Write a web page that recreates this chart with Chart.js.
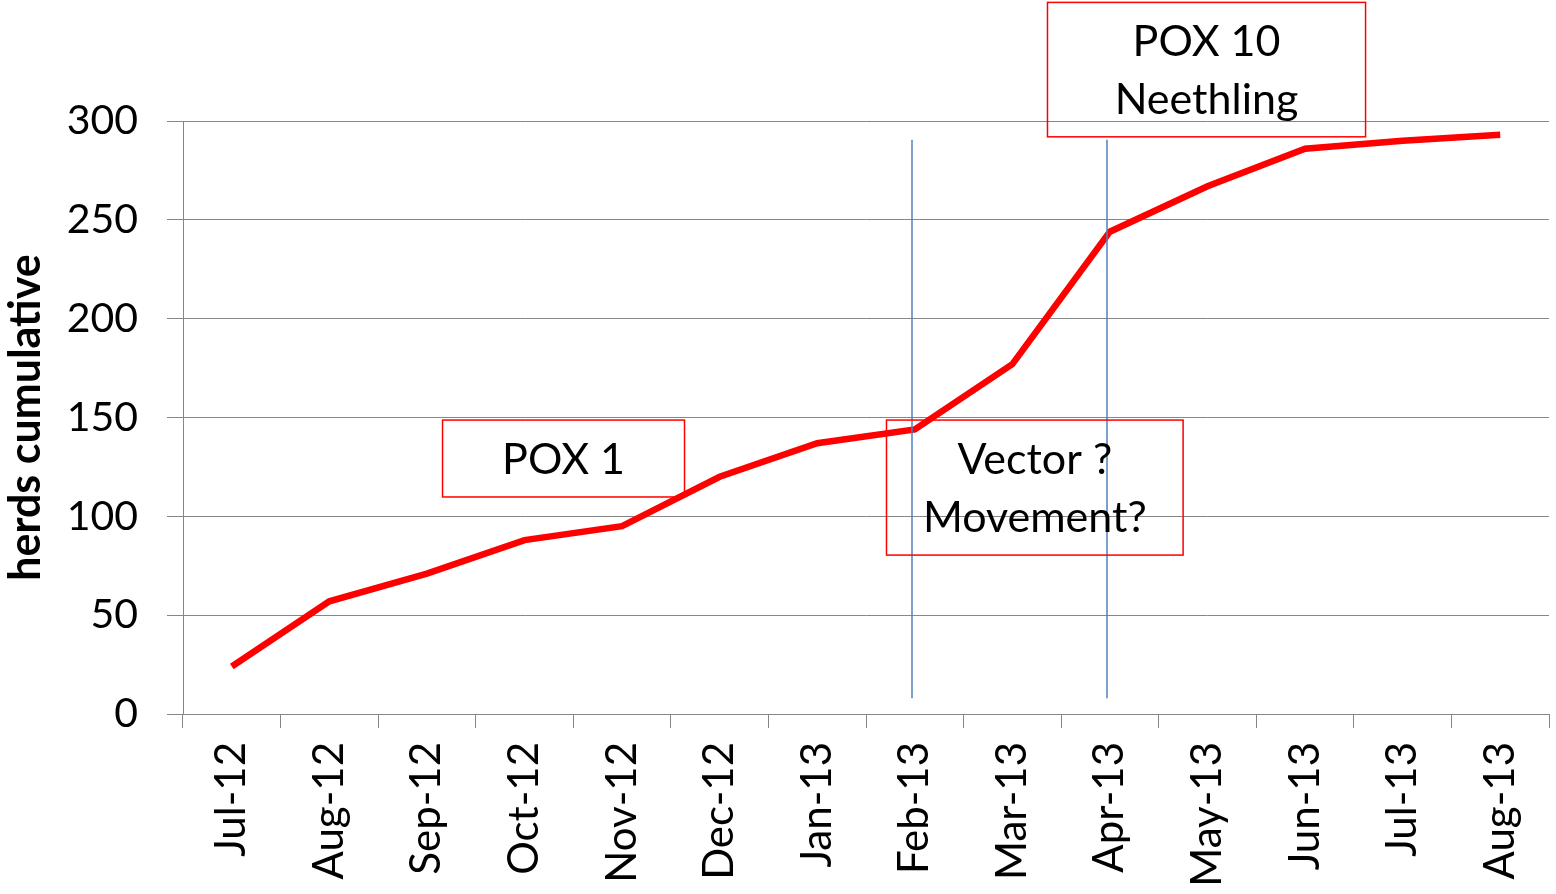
<!DOCTYPE html>
<html>
<head>
<meta charset="utf-8">
<script src="https://cdnjs.cloudflare.com/ajax/libs/Chart.js/4.4.1/chart.umd.min.js"></script>
<style>
  html, body { margin: 0; padding: 0; background: #fff; }
  #wrap { width: 1556px; height: 894px; }
</style>
</head>
<body>
<div id="wrap"><canvas id="grafico" width="1556" height="894"></canvas></div>
<script>
// meses y rebaños acumulados
var meses = ["Jul-12", "Aug-12", "Sep-12", "Oct-12", "Nov-12", "Dec-12", "Jan-13",
             "Feb-13", "Mar-13", "Apr-13", "May-13", "Jun-13", "Jul-13", "Aug-13"];
var rebanos = [24, 57, 71, 88, 95, 120, 137, 144, 177, 244, 267, 286, 290, 293];
var ticksY = [0, 50, 100, 150, 200, 250, 300];

// líneas verticales (mes) y cuadros de texto
var marcas = ["Feb-13", "Apr-13"];
var cuadros = [
    { texto: ["POX 1"], x0: 2.16, x1: 4.64, y0: 148.7, y1: 109.8 },
    { texto: ["Vector ?", "Movement?"], x0: 6.71, x1: 9.75, y0: 148.7, y1: 80.4 },
    { texto: ["POX 10", "Neethling"], x0: 8.36, x1: 11.62, y0: 360, y1: 292 }
];

var fuente = "Lato, 'DejaVu Sans', sans-serif";

var anotaciones = {
    id: "anotaciones",
    afterDatasetsDraw: function (chart) {
        var ctx = chart.ctx;
        var sx = chart.scales.x, sy = chart.scales.y;
        ctx.save();
        // líneas azules
        ctx.strokeStyle = "#4F81BD";
        ctx.lineWidth = 1.5;
        marcas.forEach(function (m) {
            var px = Math.round(sx.getPixelForValue(meses.indexOf(m))) - 3;
            ctx.beginPath();
            ctx.moveTo(px, sy.getPixelForValue(290.5));
            ctx.lineTo(px, sy.getPixelForValue(8));
            ctx.stroke();
        });
        // cuadros
        ctx.strokeStyle = "#FF0000";
        ctx.lineWidth = 1.5;
        ctx.fillStyle = "#000";
        ctx.font = "43px " + fuente;
        ctx.textAlign = "center";
        ctx.textBaseline = "middle";
        cuadros.forEach(function (c) {
            var l = sx.getPixelForValue(c.x0), r = sx.getPixelForValue(c.x1);
            var t = sy.getPixelForValue(c.y0), b = sy.getPixelForValue(c.y1);
            ctx.strokeRect(l, t, r - l, b - t);
            var cx = (l + r) / 2, cy = (t + b) / 2;
            var n = c.texto.length;
            c.texto.forEach(function (s, i) {
                ctx.fillText(s, cx, cy + (i - (n - 1) / 2) * 58 + 2);
            });
        });
        ctx.restore();
    }
};

var ctx1 = document.getElementById("grafico").getContext("2d");
window.myLine = new Chart(ctx1, {
    type: "line",
    data: {
        labels: meses,
        datasets: [{
            label: "herds cumulative",
            data: rebanos,
            borderColor: "#FF0000",
            borderWidth: 6.5,
            pointRadius: 0,
            tension: 0,
            fill: false
        }]
    },
    options: {
        responsive: false,
        animation: false,
        layout: { padding: { top: 121, right: 7, left: 0, bottom: 0 } },
        plugins: {
            legend: { display: false },
            tooltip: { enabled: false }
        },
        scales: {
            x: {
                offset: true,
                afterFit: function (scale) {
                    scale.height = 180;
                    scale.paddingLeft = 0;
                    scale.paddingRight = 0;
                },
                grid: {
                    offset: true,
                    drawOnChartArea: false,
                    color: "#868686",
                    tickLength: 14
                },
                border: { color: "#868686", width: 1 },
                ticks: {
                    maxRotation: 90,
                    minRotation: 90,
                    autoSkip: false,
                    padding: 14,
                    color: "#000",
                    font: { family: fuente, size: 42 }
                }
            },
            y: {
                min: 0,
                max: 300,
                afterFit: function (scale) { scale.width = 183; },
                afterBuildTicks: function (scale) {
                    scale.ticks = ticksY.map(function (v) { return { value: v }; });
                },
                grid: { color: "#868686", tickLength: 16 },
                border: { color: "#868686", width: 1 },
                ticks: {
                    padding: 29,
                    color: "#000",
                    font: { family: fuente, size: 41 }
                },
                title: {
                    display: true,
                    text: "herds cumulative",
                    color: "#000",
                    padding: { top: 0, bottom: 0 },
                    font: { family: fuente, size: 43, weight: "bold" }
                }
            }
        }
    },
    plugins: [anotaciones]
});
</script>
</body>
</html>
